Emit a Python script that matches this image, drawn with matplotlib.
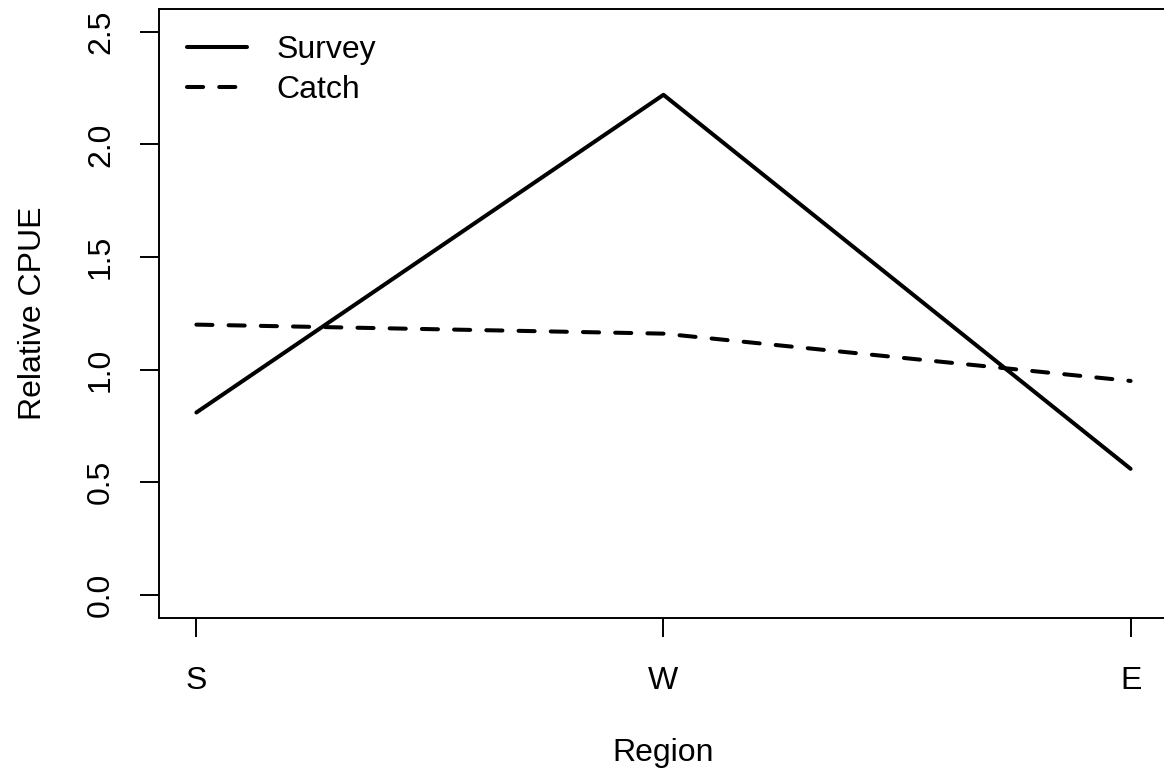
import matplotlib
matplotlib.use('Agg')
import matplotlib.pyplot as plt

# relative CPUE by region
regions = ['S', 'W', 'E']
survey = [0.81, 2.22, 0.56]
catch = [1.20, 1.16, 0.95]
yticks = [0.0, 0.5, 1.0, 1.5, 2.0, 2.5]

plt.rcParams['font.family'] = ['Liberation Sans', 'DejaVu Sans']
fs = 23

fig = plt.figure(figsize=(11.64, 7.72), dpi=100)
ax = fig.add_axes([0.1366, 0.2001, 0.8668, 0.788])

x = list(range(1, len(regions) + 1))
ax.plot(x, survey, color='black', lw=2.9, label='Survey', solid_capstyle='round')
ax.plot(x, catch, color='black', lw=2.9, label='Catch',
        linestyle=(0, (4, 4)), dash_capstyle='round')

ax.set_xlim(0.92, 3.08)
ax.set_ylim(-0.1, 2.6)
ax.set_xticks(x)
ax.set_xticklabels(regions, fontsize=fs)
ax.set_yticks(yticks)
ax.set_yticklabels(['%.1f' % v for v in yticks], fontsize=fs, rotation=90, va='center')
ax.tick_params(axis='both', length=14, width=1.4, color='black')
ax.tick_params(axis='x', pad=21)
ax.tick_params(axis='y', pad=17)
for s in ax.spines.values():
    s.set_linewidth(1.4)

ax.set_xlabel('Region', fontsize=fs, labelpad=30)
ax.set_ylabel('Relative CPUE', fontsize=fs, labelpad=27)

ax.legend(loc='upper left', bbox_to_anchor=(0.028, 0.957), frameon=False,
          fontsize=fs, handlelength=1.88, handletextpad=0.9, labelspacing=0.3,
          borderpad=0, borderaxespad=0)

fig.savefig('out.png', dpi=100)
